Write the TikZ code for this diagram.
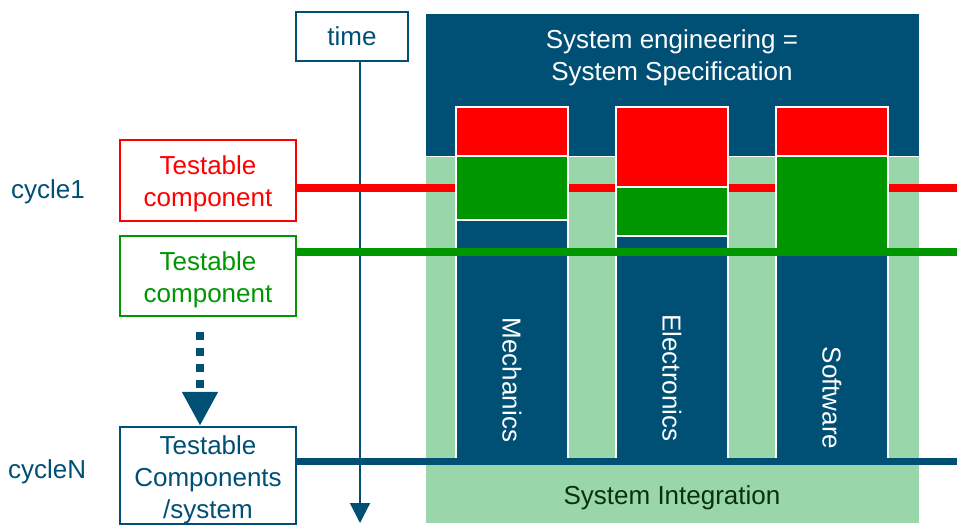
\documentclass[tikz,border=0pt]{standalone}
\usepackage{fontspec}
\setmainfont{Liberation Sans}
\usepackage{tikz}
\usetikzlibrary{arrows.meta}
\definecolor{petrol}{RGB}{0,80,117}
\definecolor{lgreen}{RGB}{153,214,169}
\definecolor{dgreen}{RGB}{0,150,0}
\definecolor{txtgreen}{RGB}{10,50,10}
\newcommand{\padtop}[1]{\rule{0pt}{#1pt}}

\begin{document}
\begin{tikzpicture}[x=1pt,y=-1pt,inner sep=0pt,
  font=\fontsize{26}{32}\selectfont,
  tbox/.style={draw,line width=2pt,minimum width=176pt,align=center},
  blk/.style={draw=white,line width=2pt}]
\useasboundingbox (0,0) rectangle (957,525);
% phases
\filldraw[fill=lgreen,draw=white,line width=1pt] (425,156) rectangle (919,523);
\filldraw[fill=petrol,draw=white,line width=1pt] (425,13) rectangle (919,156);
\node[text=white,align=center] (spec) at (672,58) {System engineering =\\System Specification};
\node[text=txtgreen] (integ) at (672,498) {System Integration};
% left side
\node[tbox,draw=petrol,text=petrol,minimum width=112pt,minimum height=49pt] (time) at (352,36.5) {time};
\node[tbox,draw=red,text=red,minimum height=81pt] (comp1) at (208,180.5) {\padtop{25}Testable\\component};
\node[tbox,draw=dgreen,text=dgreen,minimum height=80pt] (comp2) at (208,276) {\padtop{27}Testable\\component};
\node[tbox,draw=petrol,text=petrol,minimum height=95pt] (compN) at (208,475.5) {\padtop{28}Testable\\Components\\/system};
\node[text=petrol,anchor=west] (cyc1) at (11,192) {cycle1};
\node[text=petrol,anchor=west] (cycN) at (8,472) {cycleN};
\coordinate (tend) at (360,523);
\coordinate (dtop) at (200,332);
\coordinate (redend) at (957,188);
\coordinate (greenend) at (957,252);
\coordinate (blueend) at (957,461);
\draw[petrol,line width=2pt,-{Triangle[length=20pt,width=20pt]}] (tend |- time.south) -- (tend);
\draw[petrol,line width=8pt,dash pattern=on 8pt off 8pt,-{Triangle[length=34pt,width=34pt]}] (dtop) -- (dtop |- compN.north);
\draw[red,line width=8pt] (comp1.east |- redend) -- (redend);
% disciplines
\foreach \xa/\ya/\yb/\yl/\name in {456/156/220/380/Mechanics,616/187/236/378/Electronics,776/156/255/398/Software}
{ \filldraw[blk,fill=red] (\xa,107) rectangle ({\xa+112},\ya);
  \filldraw[blk,fill=dgreen] (\xa,\ya) rectangle ({\xa+112},\yb);
  \filldraw[blk,fill=petrol] (\xa,\yb) rectangle ({\xa+112},459);
  \node[text=white,rotate=-90] at ({\xa+56},\yl) {\name};
}
\draw[dgreen,line width=8pt] (comp2.east |- greenend) -- (greenend);
\draw[petrol,line width=7pt] (compN.east |- blueend) -- (blueend);
\end{tikzpicture}
\end{document}
